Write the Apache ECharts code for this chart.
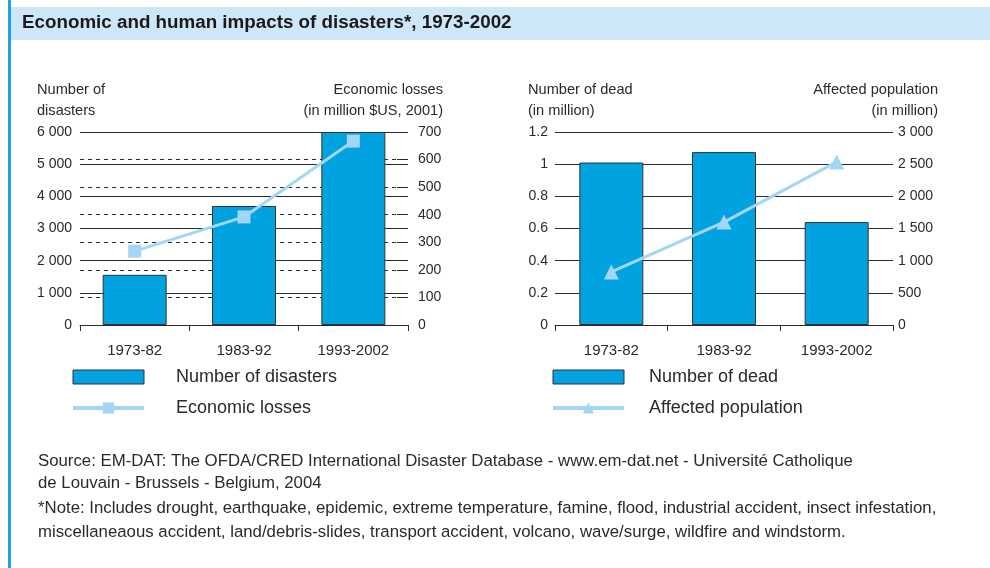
<!DOCTYPE html>
<html>
<head>
<meta charset="utf-8">
<script src="https://cdn.jsdelivr.net/npm/echarts@6/dist/echarts.min.js"></script>
<style>
html, body { margin: 0; padding: 0; background: #fff; }
#chart { width: 990px; height: 568px; }
</style>
</head>
<body>
<div id="chart"></div>
<script>
var periods = ['1973-82', '1983-92', '1993-2002'];
var disasters = [1560, 3700, 6000];
var losses = [268, 392, 667];
var dead = [1.01, 1.075, 0.64];
var affected = [824, 1600, 2535];

var barBlue = '#00a3e0';
var lineBlue = '#a3d6f5';
var ink = '#2a2a2a';
var font = 'Liberation Sans';

function thousands(v) {
	return String(v).replace(/\B(?=(\d{3})+(?!\d))/g, ' ');
}

var chart = echarts.init(document.getElementById('chart'), null, {renderer: 'canvas'});

var footer = [
	'Source: EM-DAT: The OFDA/CRED International Disaster Database - www.em-dat.net - Université Catholique',
	'de Louvain - Brussels - Belgium, 2004',
	'*Note: Includes drought, earthquake, epidemic, extreme temperature, famine, flood, industrial accident, insect infestation,',
	'miscellaneaous accident, land/debris-slides, transport accident, volcano, wave/surge, wildfire and windstorm.'
];
var footerY = [453, 475, 500, 524];

var nameFont = '14.6px "' + font + '"';
var graphics = [
	{type: 'rect', shape: {x: 10, y: 7, width: 980, height: 33}, style: {fill: '#cde6f8'}, z: -1},
	{type: 'rect', shape: {x: 8, y: 0, width: 3, height: 568}, style: {fill: '#1ba3e6'}},
	{type: 'text', x: 22, y: 13, style: {text: 'Economic and human impacts of disasters*, 1973-2002', fill: '#1a1a1a', font: 'bold 18.8px "' + font + '"'}},
	{type: 'text', x: 37, y: 79, style: {text: 'Number of\ndisasters', fill: ink, font: nameFont, lineHeight: 21}},
	{type: 'text', x: 443, y: 79, style: {text: 'Economic losses\n(in million $US, 2001)', fill: ink, font: nameFont, lineHeight: 21, align: 'right'}},
	{type: 'text', x: 528, y: 79, style: {text: 'Number of dead\n(in million)', fill: ink, font: nameFont, lineHeight: 21}},
	{type: 'text', x: 938, y: 79, style: {text: 'Affected population\n(in million)', fill: ink, font: nameFont, lineHeight: 21, align: 'right'}}
];
for (var i = 0; i < footer.length; i++) {
	graphics.push({type: 'text', x: 38, y: footerY[i], style: {text: footer[i], fill: ink, font: '16.8px "' + font + '"'}});
}

var axisLabel = {color: ink, fontFamily: font, fontSize: 14};
var rectItem = {borderColor: '#333', borderWidth: 1};
var lineItem = {width: 4, color: lineBlue};

var option = {
	animation: false,
	backgroundColor: '#fff',
	textStyle: {fontFamily: font},
	graphic: graphics,
	grid: [
		{left: 80, top: 132, width: 328, height: 193},
		{left: 555, top: 132, width: 338, height: 193}
	],
	legend: [
		{
			left: 66, top: 363, orient: 'vertical', itemWidth: 71, itemHeight: 14, itemGap: 13,
			textStyle: {color: ink, fontSize: 18, fontFamily: font, padding: [0, 0, 0, 27]},
			data: [
				{name: 'Number of disasters', icon: 'rect', itemStyle: rectItem},
				{name: 'Economic losses', lineStyle: lineItem}
			]
		},
		{
			left: 546, top: 363, orient: 'vertical', itemWidth: 71, itemHeight: 14, itemGap: 13,
			textStyle: {color: ink, fontSize: 18, fontFamily: font, padding: [0, 0, 0, 20]},
			data: [
				{name: 'Number of dead', icon: 'rect', itemStyle: rectItem},
				{name: 'Affected population', lineStyle: lineItem}
			]
		}
	],
	xAxis: [
		{
			type: 'category', gridIndex: 0, data: periods,
			axisLine: {lineStyle: {color: ink, width: 1}},
			axisTick: {show: true, length: 6, lineStyle: {color: ink}},
			axisLabel: {color: ink, fontFamily: font, fontSize: 15, margin: 18}
		},
		{
			type: 'category', gridIndex: 1, data: periods,
			axisLine: {lineStyle: {color: ink, width: 1}},
			axisTick: {show: true, length: 6, lineStyle: {color: ink}},
			axisLabel: {color: ink, fontFamily: font, fontSize: 15, margin: 18}
		}
	],
	yAxis: [
		{
			type: 'value', gridIndex: 0, min: 0, max: 6000, interval: 1000,
			axisLine: {show: false}, axisTick: {show: false},
			axisLabel: Object.assign({margin: 8, formatter: thousands}, axisLabel),
			splitLine: {show: true, lineStyle: {color: ink, width: 1}}
		},
		{
			type: 'value', gridIndex: 0, position: 'right', min: 0, max: 700, interval: 100,
			axisLine: {show: false},
			axisTick: {show: true, inside: true, length: 11, lineStyle: {color: ink}},
			axisLabel: Object.assign({margin: 10}, axisLabel),
			splitLine: {show: true, lineStyle: {color: ink, width: 1, type: [4, 4]}}
		},
		{
			type: 'value', gridIndex: 1, min: 0, max: 1.2, interval: 0.2,
			axisLine: {show: false}, axisTick: {show: false},
			axisLabel: Object.assign({margin: 7}, axisLabel),
			splitLine: {show: true, lineStyle: {color: ink, width: 1}}
		},
		{
			type: 'value', gridIndex: 1, position: 'right', min: 0, max: 3000, interval: 500,
			axisLine: {show: false}, axisTick: {show: false},
			axisLabel: Object.assign({margin: 5, formatter: thousands}, axisLabel),
			splitLine: {show: false}
		}
	],
	series: [
		{
			name: 'Number of disasters', type: 'bar', xAxisIndex: 0, yAxisIndex: 0, data: disasters,
			barWidth: 64, itemStyle: {color: barBlue, borderColor: '#333', borderWidth: 1}
		},
		{
			name: 'Economic losses', type: 'line', xAxisIndex: 0, yAxisIndex: 1, data: losses,
			symbol: 'rect', symbolSize: 13, lineStyle: {color: lineBlue, width: 3},
			itemStyle: {color: lineBlue}
		},
		{
			name: 'Number of dead', type: 'bar', xAxisIndex: 1, yAxisIndex: 2, data: dead,
			barWidth: 64, itemStyle: {color: barBlue, borderColor: '#333', borderWidth: 1}
		},
		{
			name: 'Affected population', type: 'line', xAxisIndex: 1, yAxisIndex: 3, data: affected,
			symbol: 'triangle', symbolSize: 15, lineStyle: {color: lineBlue, width: 3},
			itemStyle: {color: lineBlue}
		}
	]
};
chart.setOption(option);
</script>
</body>
</html>
